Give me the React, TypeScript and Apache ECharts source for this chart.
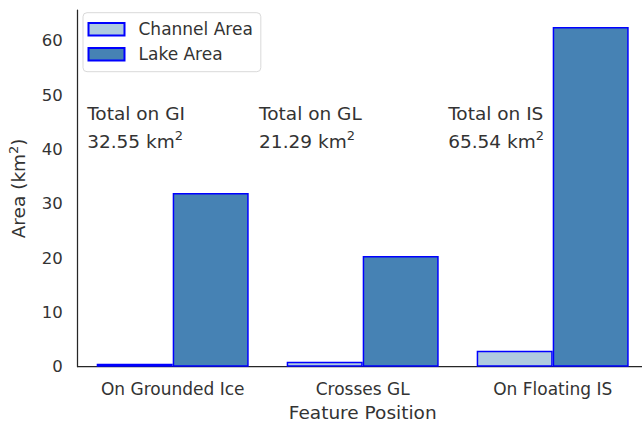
import React, { useEffect, useRef } from "react";
import * as echarts from "echarts";

const categories = ["On Grounded Ice", "Crosses GL", "On Floating IS"];
const channelArea = [0.55, 0.9, 2.96];
const lakeArea = [32.0, 20.39, 62.58];
const totalLabels = ["GI", "GL", "IS"];
const totalValues = ["32.55", "21.29", "65.54"];
const annotationX = [-0.45, 0.455, 1.45];
const annotationY = [44, 44, 44];
const yTicks = [0, 10, 20, 30, 40, 50, 60];
const yMax = 65.71;

const TEXT = "#333333";
const FONT = "DejaVu Sans";

export default function App() {
  const ref = useRef<HTMLDivElement>(null);
  useEffect(() => {
    if (!ref.current) return;
    const chart = echarts.init(ref.current, undefined, { renderer: "svg" });
    const annData = annotationX.map((x, i) => ({
      value: [x, annotationY[i]],
      name: totalLabels[i],
      total: totalValues[i],
    }));
    chart.setOption({
      animation: false,
      backgroundColor: "#ffffff",
      textStyle: { fontFamily: FONT, color: TEXT },
      grid: {
        left: 77.7,
        top: 10,
        width: 570,
        height: 356.7,
        containLabel: false,
        outerBoundsMode: "none",
      },
      legend: {
        data: ["Channel Area", "Lake Area"],
        orient: "vertical",
        left: 83,
        top: 12.7,
        padding: [8, 8, 9, 4.5],
        itemGap: 8,
        itemWidth: 36,
        itemHeight: 12.6,
        icon: "rect",
        backgroundColor: "#ffffff",
        borderColor: "#d9d9d9",
        borderWidth: 1,
        borderRadius: 4,
        textStyle: { fontFamily: FONT, fontSize: 17, color: TEXT, padding: [0, 0, 0, 9] },
      },
      xAxis: [
        {
          type: "category",
          data: categories,
          axisLine: { show: true, onZero: false, lineStyle: { color: "#262626", width: 1.25 } },
          axisTick: { show: false },
          splitLine: { show: false },
          axisLabel: { fontFamily: FONT, fontSize: 17, color: TEXT, margin: 14 },
          name: "Feature Position",
          nameLocation: "middle",
          nameGap: 35,
          nameTextStyle: { fontFamily: FONT, fontSize: 18.5, color: TEXT },
        },
        {
          type: "value",
          show: false,
          min: -0.5,
          max: 2.5,
          gridIndex: 0,
          axisLine: { show: false, onZero: false },
          splitLine: { show: false },
        },
      ],
      yAxis: {
        type: "value",
        min: yTicks[0],
        max: yMax,
        interval: 10,
        axisLine: { show: true, onZero: false, lineStyle: { color: "#262626", width: 1.25 } },
        axisTick: { show: false },
        splitLine: { show: false },
        axisLabel: {
          fontFamily: FONT,
          fontSize: 16.5,
          color: TEXT,
          margin: 15,
          showMaxLabel: false,
          formatter: (v: number) => (yTicks.includes(v) ? String(v) : ""),
        },
        name: "{a|Area (km}{s|2}{a|)}",
        nameLocation: "middle",
        nameGap: 47,
        nameRotate: 90,
        nameTextStyle: {
          rich: {
            a: { fontFamily: FONT, fontSize: 18.5, color: TEXT },
            s: { fontFamily: FONT, fontSize: 13, color: TEXT, padding: [0, 0, 11, 0] },
          },
        },
      },
      series: [
        {
          name: "Channel Area",
          type: "bar",
          data: channelArea,
          barGap: "0%",
          barCategoryGap: "20%",
          itemStyle: { color: "#afcbdf", borderColor: "#0000ff", borderWidth: 1.5 },
        },
        {
          name: "Lake Area",
          type: "bar",
          data: lakeArea,
          barGap: "0%",
          barCategoryGap: "20%",
          itemStyle: { color: "#4682b4", borderColor: "#0000ff", borderWidth: 1.5 },
        },
        {
          name: "Totals",
          type: "scatter",
          xAxisIndex: 1,
          yAxisIndex: 0,
          symbolSize: 0.1,
          itemStyle: { color: "rgba(0,0,0,0)" },
          silent: true,
          data: annData,
          label: {
            show: true,
            position: [0, 0],
            align: "left",
            verticalAlign: "middle",
            color: TEXT,
            opacity: 1,
            formatter: (p: any) =>
              `{a|Total on ${p.data.name}}\n{a|${p.data.total} km}{s|2}`,
            rich: {
              a: { fontFamily: FONT, fontSize: 18.5, color: TEXT, lineHeight: 28.4 },
              s: { fontFamily: FONT, fontSize: 13, color: TEXT, padding: [0, 0, 12, 0] },
            },
          },
        },
      ],
    });
    return () => chart.dispose();
  }, []);
  return (
    <div
      style={{
        position: "absolute",
        left: 0,
        top: 0,
        width: 642,
        height: 422,
        overflow: "hidden",
        background: "#fff",
      }}
    >
      <div ref={ref} style={{ width: 660, height: 422 }} />
    </div>
  );
}
